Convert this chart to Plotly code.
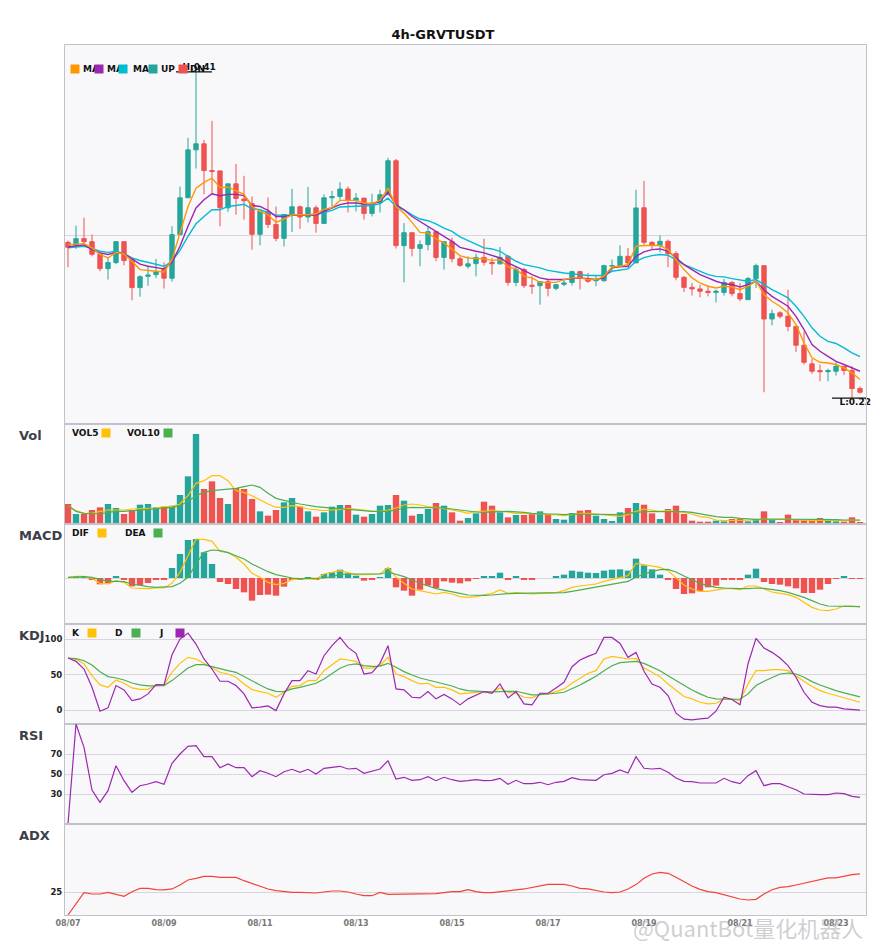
import pandas as pd
import plotly.graph_objects as go
from plotly.subplots import make_subplots

SYMBOL = "GRVTUSDT"
INTERVAL = "4h"
START = "2025-08-07 00:00"

# OHLC, one candle every 4 hours
opens = [0.2961, 0.2944, 0.2982, 0.2965, 0.2894, 0.2816, 0.2849, 0.2965, 0.2865, 0.2716,
         0.2775, 0.2784, 0.2816, 0.2765, 0.3005, 0.3224, 0.3533, 0.3574, 0.3396, 0.3394,
         0.3163, 0.3311, 0.3216, 0.3188, 0.3007, 0.3141, 0.3064, 0.2984, 0.3123, 0.3169,
         0.3108, 0.3163, 0.3070, 0.3224, 0.3232, 0.3278, 0.3208, 0.3222, 0.3129, 0.3192,
         0.3243, 0.3460, 0.2943, 0.3016, 0.2927, 0.2948, 0.3022, 0.2877, 0.2965, 0.2870,
         0.2829, 0.2843, 0.2877, 0.2850, 0.2842, 0.2883, 0.2743, 0.2811, 0.2728, 0.2726,
         0.2747, 0.2712, 0.2733, 0.2743, 0.2800, 0.2761, 0.2752, 0.2752, 0.2830, 0.2832,
         0.2883, 0.2847, 0.3163, 0.2961, 0.2943, 0.2967, 0.2898, 0.2770, 0.2717, 0.2709,
         0.2697, 0.2691, 0.2691, 0.2743, 0.2685, 0.2654, 0.2763, 0.2832, 0.2558, 0.2588,
         0.2571, 0.2522, 0.2433, 0.2348, 0.2318, 0.2313, 0.2315, 0.2337, 0.2318, 0.2240]
highs = [0.2971, 0.3057, 0.3104, 0.3005, 0.2894, 0.2880, 0.2965, 0.2965, 0.2869, 0.2780,
         0.2829, 0.2869, 0.2850, 0.3053, 0.3294, 0.3615, 0.4100, 0.3601, 0.3734, 0.3394,
         0.3311, 0.3440, 0.3362, 0.3232, 0.3141, 0.3226, 0.3171, 0.3123, 0.3280, 0.3177,
         0.3292, 0.3177, 0.3245, 0.3267, 0.3322, 0.3294, 0.3253, 0.3222, 0.3249, 0.3274,
         0.3480, 0.3473, 0.3072, 0.3016, 0.2972, 0.3049, 0.3022, 0.2965, 0.2988, 0.2883,
         0.2883, 0.2898, 0.2982, 0.2874, 0.2935, 0.2891, 0.2829, 0.2820, 0.2775, 0.2747,
         0.2758, 0.2735, 0.2762, 0.2805, 0.2805, 0.2793, 0.2779, 0.2838, 0.2865, 0.2944,
         0.2930, 0.3274, 0.3330, 0.2967, 0.3001, 0.2977, 0.2911, 0.2775, 0.2740, 0.2731,
         0.2726, 0.2705, 0.2762, 0.2749, 0.2740, 0.2772, 0.2843, 0.2832, 0.2604, 0.2596,
         0.2705, 0.2522, 0.2498, 0.2370, 0.2345, 0.2326, 0.2355, 0.2337, 0.2337, 0.2249]
lows = [0.2823, 0.2924, 0.2954, 0.2883, 0.2802, 0.2758, 0.2840, 0.2834, 0.2651, 0.2669,
        0.2726, 0.2765, 0.2711, 0.2747, 0.3005, 0.3224, 0.3409, 0.3245, 0.3243, 0.3053,
        0.3139, 0.3121, 0.3092, 0.2920, 0.2944, 0.3043, 0.2967, 0.2938, 0.3020, 0.3038,
        0.3076, 0.3016, 0.3067, 0.3155, 0.3212, 0.3135, 0.3141, 0.3092, 0.3111, 0.3135,
        0.3243, 0.2926, 0.2743, 0.2883, 0.2829, 0.2916, 0.2856, 0.2811, 0.2850, 0.2825,
        0.2816, 0.2775, 0.2833, 0.2784, 0.2838, 0.2726, 0.2723, 0.2714, 0.2683, 0.2629,
        0.2671, 0.2702, 0.2723, 0.2726, 0.2706, 0.2740, 0.2723, 0.2747, 0.2802, 0.2829,
        0.2820, 0.2847, 0.2948, 0.2920, 0.2905, 0.2823, 0.2754, 0.2693, 0.2675, 0.2666,
        0.2671, 0.2640, 0.2675, 0.2671, 0.2646, 0.2654, 0.2714, 0.2224, 0.2527, 0.2560,
        0.2498, 0.2401, 0.2345, 0.2304, 0.2271, 0.2271, 0.2296, 0.2298, 0.2199, 0.2218]
closes = [0.2933, 0.2982, 0.2965, 0.2894, 0.2816, 0.2849, 0.2965, 0.2860, 0.2716, 0.2773,
          0.2782, 0.2800, 0.2765, 0.3005, 0.3224, 0.3533, 0.3574, 0.3396, 0.3390, 0.3163,
          0.3311, 0.3220, 0.3206, 0.3007, 0.3141, 0.3064, 0.2984, 0.3123, 0.3169, 0.3108,
          0.3163, 0.3070, 0.3224, 0.3232, 0.3278, 0.3208, 0.3222, 0.3129, 0.3192, 0.3243,
          0.3460, 0.2943, 0.3016, 0.2927, 0.2948, 0.3022, 0.2877, 0.2965, 0.2870, 0.2834,
          0.2842, 0.2877, 0.2850, 0.2843, 0.2877, 0.2743, 0.2811, 0.2726, 0.2723, 0.2747,
          0.2712, 0.2731, 0.2740, 0.2800, 0.2765, 0.2749, 0.2756, 0.2832, 0.2832, 0.2883,
          0.2847, 0.3162, 0.2961, 0.2943, 0.2967, 0.2898, 0.2770, 0.2717, 0.2709, 0.2697,
          0.2691, 0.2697, 0.2743, 0.2685, 0.2658, 0.2763, 0.2832, 0.2558, 0.2584, 0.2571,
          0.2522, 0.2433, 0.2355, 0.2315, 0.2313, 0.2318, 0.2337, 0.2318, 0.2240, 0.2224]

# moving averages
ma5 = [0.2948, 0.2952, 0.2954, 0.2930, 0.2893, 0.2874, 0.2905, 0.2896, 0.2856, 0.2811,
       0.2805, 0.2802, 0.2798, 0.2865, 0.3015, 0.3171, 0.3284, 0.3320, 0.3348, 0.3288,
       0.3290, 0.3267, 0.3245, 0.3171, 0.3141, 0.3121, 0.3076, 0.3096, 0.3121, 0.3121,
       0.3121, 0.3127, 0.3155, 0.3163, 0.3208, 0.3208, 0.3208, 0.3192, 0.3188, 0.3208,
       0.3284, 0.3171, 0.3131, 0.3076, 0.3018, 0.3015, 0.2980, 0.2958, 0.2920, 0.2887,
       0.2874, 0.2872, 0.2869, 0.2861, 0.2865, 0.2825, 0.2815, 0.2775, 0.2767, 0.2743,
       0.2743, 0.2743, 0.2758, 0.2767, 0.2767, 0.2758, 0.2758, 0.2775, 0.2825, 0.2829,
       0.2838, 0.2939, 0.2943, 0.2943, 0.2943, 0.2920, 0.2865, 0.2811, 0.2767, 0.2740,
       0.2723, 0.2714, 0.2723, 0.2719, 0.2705, 0.2723, 0.2749, 0.2680, 0.2646, 0.2621,
       0.2588, 0.2531, 0.2444, 0.2375, 0.2355, 0.2352, 0.2345, 0.2330, 0.2308, 0.2279]
ma10 = [0.2935, 0.2943, 0.2947, 0.2920, 0.2902, 0.2893, 0.2905, 0.2898, 0.2869, 0.2840,
        0.2829, 0.2822, 0.2815, 0.2850, 0.2939, 0.3053, 0.3162, 0.3212, 0.3249, 0.3237,
        0.3245, 0.3245, 0.3237, 0.3177, 0.3171, 0.3147, 0.3111, 0.3111, 0.3119, 0.3121,
        0.3119, 0.3119, 0.3141, 0.3162, 0.3182, 0.3192, 0.3192, 0.3186, 0.3186, 0.3202,
        0.3257, 0.3182, 0.3151, 0.3111, 0.3082, 0.3053, 0.3024, 0.2995, 0.2967, 0.2933,
        0.2920, 0.2911, 0.2902, 0.2887, 0.2874, 0.2847, 0.2829, 0.2807, 0.2784, 0.2767,
        0.2758, 0.2758, 0.2758, 0.2763, 0.2767, 0.2763, 0.2758, 0.2767, 0.2820, 0.2826,
        0.2829, 0.2883, 0.2908, 0.2920, 0.2924, 0.2911, 0.2874, 0.2838, 0.2811, 0.2784,
        0.2767, 0.2749, 0.2737, 0.2731, 0.2719, 0.2731, 0.2749, 0.2705, 0.2671, 0.2646,
        0.2621, 0.2571, 0.2507, 0.2436, 0.2405, 0.2382, 0.2359, 0.2345, 0.2330, 0.2315]
ma20 = [0.2930, 0.2935, 0.2939, 0.2927, 0.2911, 0.2905, 0.2911, 0.2898, 0.2874, 0.2860,
        0.2850, 0.2843, 0.2829, 0.2856, 0.2916, 0.2995, 0.3068, 0.3111, 0.3151, 0.3151,
        0.3171, 0.3177, 0.3184, 0.3157, 0.3151, 0.3135, 0.3119, 0.3119, 0.3119, 0.3121,
        0.3121, 0.3121, 0.3135, 0.3147, 0.3168, 0.3171, 0.3171, 0.3176, 0.3177, 0.3188,
        0.3222, 0.3171, 0.3151, 0.3121, 0.3096, 0.3086, 0.3067, 0.3043, 0.3024, 0.2992,
        0.2972, 0.2952, 0.2930, 0.2924, 0.2911, 0.2883, 0.2856, 0.2838, 0.2829, 0.2820,
        0.2807, 0.2798, 0.2793, 0.2788, 0.2782, 0.2779, 0.2779, 0.2779, 0.2802, 0.2807,
        0.2815, 0.2856, 0.2876, 0.2887, 0.2893, 0.2889, 0.2865, 0.2838, 0.2820, 0.2802,
        0.2784, 0.2775, 0.2772, 0.2763, 0.2754, 0.2749, 0.2758, 0.2731, 0.2705, 0.2685,
        0.2663, 0.2621, 0.2571, 0.2515, 0.2475, 0.2451, 0.2441, 0.2421, 0.2398, 0.2380]

volume = [60000, 30000, 30000, 42000, 50000, 60000, 48000, 30000, 42000, 58000,
          60000, 50000, 52000, 55000, 87000, 143000, 270000, 105000, 128000, 78000,
          60000, 108000, 105000, 75000, 38000, 25000, 42000, 65000, 78000, 52000,
          38000, 22000, 35000, 52000, 57000, 57000, 28000, 22000, 30000, 55000,
          57000, 87000, 70000, 25000, 30000, 45000, 63000, 55000, 35000, 10000,
          18000, 32000, 67000, 55000, 35000, 20000, 27000, 27000, 30000, 38000,
          30000, 15000, 13000, 33000, 40000, 42000, 25000, 15000, 9000, 35000,
          48000, 63000, 58000, 32000, 15000, 45000, 55000, 30000, 10000, 7000,
          7000, 10000, 8000, 15000, 15000, 8000, 15000, 38000, 12000, 4000,
          28000, 13000, 13000, 13000, 18000, 13000, 8000, 7000, 20000, 4000]
vol5 = [55000, 40000, 32000, 32000, 38000, 42000, 42000, 42000, 45000, 45000,
        47000, 48000, 52000, 53000, 60000, 85000, 122000, 130000, 145000, 145000,
        130000, 100000, 95000, 85000, 72000, 60000, 50000, 50000, 55000, 52000,
        45000, 42000, 40000, 42000, 43000, 47000, 45000, 42000, 38000, 38000,
        42000, 48000, 57000, 60000, 57000, 52000, 50000, 45000, 42000, 38000,
        32000, 38000, 38000, 42000, 38000, 35000, 32000, 32000, 30000, 32000,
        28000, 27000, 25000, 28000, 32000, 32000, 30000, 28000, 25000, 23000,
        28000, 38000, 45000, 42000, 38000, 40000, 38000, 35000, 30000, 22000,
        20000, 12000, 10000, 10000, 12000, 10000, 12000, 15000, 13000, 14000,
        15000, 12000, 10000, 10000, 11000, 12000, 11000, 10000, 12000, 10000]
vol10 = [55000, 38000, 32000, 30000, 30000, 35000, 38000, 38000, 40000, 42000,
         42000, 44000, 48000, 50000, 55000, 68000, 85000, 95000, 100000, 102000,
         105000, 107000, 112000, 117000, 110000, 92000, 77000, 70000, 65000, 60000,
         55000, 52000, 50000, 48000, 45000, 45000, 42000, 40000, 38000, 38000,
         38000, 42000, 48000, 50000, 50000, 48000, 48000, 48000, 45000, 42000,
         38000, 36000, 35000, 35000, 37000, 38000, 37000, 35000, 32000, 30000,
         30000, 30000, 28000, 30000, 30000, 30000, 30000, 28000, 28000, 28000,
         32000, 35000, 37000, 37000, 37000, 38000, 38000, 37000, 35000, 30000,
         25000, 22000, 20000, 20000, 17000, 15000, 14000, 15000, 15000, 14000,
         15000, 15000, 14000, 13000, 13000, 13000, 13000, 12000, 12000, 12000]

macd_hist = [0.0, 0.0002, 0.0001, -0.0006, -0.0019, -0.0016, 0.0004, -0.0006, -0.0025, -0.0022,
             -0.0015, -0.0005, -0.0005, 0.0030, 0.0072, 0.0114, 0.0117, 0.0077, 0.0042, -0.0012,
             -0.0018, -0.0033, -0.0043, -0.0068, -0.0051, -0.0050, -0.0053, -0.0026, -0.0006, -0.0004,
             0.0002, -0.0004, 0.0012, 0.0017, 0.0025, 0.0014, 0.0007, -0.0008, -0.0006, 0.0001,
             0.0030, -0.0028, -0.0038, -0.0053, -0.0035, -0.0023, -0.0030, -0.0010, -0.0014, -0.0016,
             -0.0010, -0.0001, 0.0004, 0.0006, 0.0016, -0.0004, 0.0004, -0.0004, -0.0004, 0.0,
             0.0, 0.0006, 0.0010, 0.0022, 0.0019, 0.0016, 0.0015, 0.0022, 0.0025, 0.0026,
             0.0022, 0.0058, 0.0038, 0.0026, 0.0010, -0.0004, -0.0033, -0.0048, -0.0046, -0.0040,
             -0.0028, -0.0023, -0.0006, -0.0005, -0.0006, 0.0010, 0.0028, -0.0012, -0.0018, -0.0020,
             -0.0025, -0.0031, -0.0045, -0.0045, -0.0035, -0.0018, -0.0003, 0.0006, -0.0002, -0.0002]
dif = [0.0002, 0.0005, 0.0005, -0.0001, -0.0016, -0.0018, -0.0008, -0.0013, -0.0030, -0.0032,
       -0.0032, -0.0030, -0.0030, -0.0016, 0.0017, 0.0067, 0.0117, 0.0116, 0.0110, 0.0080,
       0.0077, 0.0062, 0.0042, 0.0014, 0.0002, -0.0013, -0.0020, -0.0016, -0.0005, -0.0002,
       -0.0002, -0.0004, 0.0012, 0.0017, 0.0022, 0.0016, 0.0010, 0.0010, 0.0010, 0.0012,
       0.0032, 0.0002, -0.0016, -0.0033, -0.0038, -0.0043, -0.0048, -0.0043, -0.0048, -0.0056,
       -0.0058, -0.0056, -0.0050, -0.0046, -0.0036, -0.0046, -0.0044, -0.0046, -0.0048, -0.0046,
       -0.0046, -0.0044, -0.0038, -0.0028, -0.0024, -0.0022, -0.0018, -0.0010, -0.0004, 0.0,
       0.0007, 0.0044, 0.0040, 0.0034, 0.0032, 0.0022, 0.0, -0.0021, -0.0033, -0.0040,
       -0.0040, -0.0036, -0.0032, -0.0032, -0.0035, -0.0024, -0.0024, -0.0033, -0.0042, -0.0046,
       -0.0050, -0.0058, -0.0073, -0.0088, -0.0096, -0.0098, -0.0093, -0.0084, -0.0084, -0.0087]
dea = [0.0002, 0.0003, 0.0004, 0.0002, -0.0004, -0.0010, -0.0010, -0.0011, -0.0018, -0.0023,
       -0.0026, -0.0028, -0.0028, -0.0026, -0.0016, 0.0002, 0.0042, 0.0077, 0.0084, 0.0082,
       0.0076, 0.0067, 0.0057, 0.0042, 0.0030, 0.0019, 0.0010, 0.0004, 0.0, -0.0002,
       -0.0002, -0.0002, 0.0, 0.0004, 0.0010, 0.0012, 0.0012, 0.0011, 0.0011, 0.0012,
       0.0018, 0.0012, 0.0004, -0.0006, -0.0016, -0.0024, -0.0032, -0.0036, -0.0040, -0.0046,
       -0.0051, -0.0052, -0.0052, -0.0051, -0.0048, -0.0047, -0.0046, -0.0046, -0.0046, -0.0046,
       -0.0046, -0.0046, -0.0044, -0.0040, -0.0036, -0.0032, -0.0028, -0.0023, -0.0018, -0.0014,
       -0.0010, 0.0002, 0.0012, 0.0019, 0.0025, 0.0026, 0.0018, 0.0006, -0.0006, -0.0016,
       -0.0023, -0.0028, -0.0030, -0.0032, -0.0032, -0.0032, -0.0030, -0.0031, -0.0034, -0.0038,
       -0.0043, -0.0050, -0.0058, -0.0068, -0.0078, -0.0084, -0.0085, -0.0085, -0.0085, -0.0086]

k_line = [73.4, 71.5, 65.0, 48.6, 35.5, 32.2, 42.5, 37.9, 31.3, 29.4,
          29.4, 35.5, 35.5, 53.3, 65.9, 74.3, 72.0, 65.9, 59.3, 53.3,
          50.9, 46.3, 36.9, 29.0, 26.2, 23.8, 18.2, 25.2, 33.6, 34.6,
          41.6, 41.6, 55.6, 64.0, 72.0, 70.6, 68.7, 59.3, 59.3, 62.6,
          74.3, 50.9, 47.2, 41.6, 36.9, 37.9, 32.2, 32.2, 28.5, 22.9,
          23.8, 25.2, 26.2, 25.2, 31.3, 25.2, 23.8, 18.2, 17.3, 22.9,
          22.9, 26.2, 29.9, 37.9, 45.3, 51.9, 55.6, 72.0, 75.7, 74.3,
          72.0, 72.9, 59.3, 53.3, 47.2, 36.9, 27.6, 19.2, 15.9, 11.2,
          8.9, 9.8, 15.9, 15.4, 13.6, 36.9, 55.6, 55.6, 57.0, 57.0,
          55.6, 48.6, 40.7, 33.2, 27.6, 23.8, 20.6, 18.2, 14.5, 11.2]
d_line = [73.4, 72.4, 69.6, 63.6, 54.2, 47.2, 45.3, 42.5, 38.3, 35.5,
          34.1, 34.1, 34.6, 41.6, 50.9, 59.3, 64.0, 64.0, 61.2, 57.9,
          55.6, 53.3, 47.2, 40.7, 35.5, 29.9, 26.6, 26.2, 29.9, 32.2,
          35.5, 37.9, 43.9, 50.9, 58.9, 63.6, 65.0, 62.6, 61.7, 62.1,
          65.9, 60.3, 54.2, 49.5, 45.3, 42.5, 39.3, 36.9, 34.1, 29.9,
          27.6, 26.6, 26.2, 25.7, 26.6, 26.6, 26.6, 23.8, 21.5, 22.0,
          22.4, 23.8, 25.2, 29.9, 35.5, 41.6, 47.7, 55.6, 62.6, 66.8,
          68.2, 68.7, 65.9, 61.2, 55.6, 48.6, 41.6, 34.6, 28.5, 22.9,
          18.2, 15.9, 15.9, 15.4, 15.4, 22.9, 34.6, 40.7, 46.3, 50.9,
          52.3, 50.9, 46.3, 40.2, 35.5, 31.3, 27.6, 24.3, 21.5, 18.7]
j_line = [73.4, 68.7, 57.9, 32.2, -1.4, 3.3, 34.6, 28.5, 13.6, 15.9,
          22.9, 36.0, 35.5, 78.0, 100.0, 108.4, 93.0, 72.0, 57.9, 40.7,
          40.7, 34.6, 22.9, 3.3, 4.2, 6.1, -0.5, 22.9, 41.6, 41.6,
          55.6, 50.9, 76.6, 90.7, 102.3, 88.3, 79.9, 50.9, 52.8, 65.9,
          90.7, 29.9, 28.5, 18.2, 17.3, 26.2, 15.9, 22.0, 15.9, 7.5,
          15.9, 20.6, 26.2, 23.8, 36.9, 17.3, 26.2, 8.9, 7.5, 23.8,
          23.8, 31.3, 39.3, 61.2, 70.6, 75.7, 79.9, 102.3, 102.3, 93.9,
          74.3, 81.3, 54.7, 36.9, 32.2, 20.6, -4.2, -12.6, -13.6, -12.1,
          -11.2, -1.4, 18.2, 15.0, 7.5, 65.0, 100.9, 87.4, 81.3, 73.4,
          62.6, 46.3, 25.2, 11.2, 6.5, 4.2, 4.2, 1.9, 0.5, 0.0]

rsi = [0.0, 100.0, 76.7, 34.0, 21.7, 33.3, 58.3, 43.3, 31.7, 38.3,
       40.0, 42.3, 39.7, 60.7, 70.0, 77.7, 78.3, 67.3, 67.3, 56.3,
       60.0, 56.3, 56.3, 47.3, 53.3, 50.7, 47.3, 52.3, 54.7, 51.7,
       54.7, 50.0, 55.7, 56.7, 57.7, 55.0, 55.7, 50.7, 53.0, 55.0,
       63.3, 45.0, 46.7, 43.7, 44.3, 47.3, 43.3, 46.7, 44.3, 42.7,
       43.3, 44.3, 43.3, 43.7, 45.7, 39.7, 43.7, 40.3, 40.3, 41.7,
       39.3, 41.7, 42.7, 46.3, 44.3, 43.7, 43.7, 49.3, 50.7, 54.0,
       51.0, 67.3, 55.7, 55.0, 55.7, 51.7, 46.0, 42.7, 42.3, 41.0,
       41.0, 41.0, 45.7, 42.3, 40.3, 48.3, 53.3, 38.3, 40.3, 40.3,
       37.3, 34.3, 30.0, 29.3, 29.3, 29.3, 31.0, 30.3, 27.7, 26.7]

adx = [0.0, 12.8, 24.5, 23.1, 23.1, 24.9, 23.1, 20.5, 25.6, 29.3,
       29.3, 27.8, 27.5, 28.6, 33.0, 38.5, 40.3, 42.5, 42.5, 41.4,
       41.4, 41.4, 37.7, 34.8, 32.2, 28.6, 26.7, 25.6, 24.9, 24.9,
       24.2, 24.2, 25.3, 26.4, 26.4, 25.3, 23.1, 21.2, 21.2, 24.9,
       22.7, 22.7, 22.7, 23.4, 22.7, 22.7, 23.4, 24.5, 25.6, 25.6,
       27.8, 25.6, 24.5, 24.5, 25.3, 26.4, 27.5, 28.6, 30.4, 32.2,
       33.7, 33.7, 33.7, 31.9, 29.3, 28.6, 26.7, 25.3, 24.5, 25.3,
       28.6, 33.4, 40.3, 45.1, 46.9, 45.8, 41.4, 36.3, 31.9, 28.2,
       25.6, 24.5, 22.3, 19.4, 17.6, 16.5, 17.2, 23.1, 27.8, 30.4,
       31.1, 33.0, 34.8, 37.0, 38.8, 40.7, 40.7, 42.5, 44.3, 45.1]

UP = "#26a69a"
DOWN = "#ef5350"
MA_COLORS = ["#ff9800", "#9c27b0", "#00bcd4"]
YELLOW = "#ffc107"
GREEN = "#4caf50"
PURPLE = "#9c27b0"
AXIS = "#c2c2ca"
GRID = "#d6d6dc"
FONT = "DejaVu Sans"

# figure geometry (px); the page puts the figure 8px in from the window corner
W, H = 885, 950
PAGE = 8
L_M, R_M, T_M, B_M = 57, 27, 37, 43
PW, PH = W - L_M - R_M, H - T_M - B_M


def px(x):
    # window x -> paper x
    return (x - PAGE - L_M) / PW


def py(y):
    # window y -> paper y
    return (H - B_M - (y - PAGE)) / PH


times = pd.date_range(START, periods=len(closes), freq="4h")
step = pd.Timedelta(hours=4)

fig = make_subplots(rows=6, cols=1, shared_xaxes=True, vertical_spacing=0,
                    row_heights=[379, 100, 100, 100, 100, 91])

# --- price panel
fig.add_trace(go.Candlestick(
    x=times, open=opens, high=highs, low=lows, close=closes,
    increasing=dict(line=dict(color=UP, width=1), fillcolor=UP),
    decreasing=dict(line=dict(color=DOWN, width=1), fillcolor=DOWN),
    whiskerwidth=0, showlegend=False), row=1, col=1)
for ma, color in zip([ma20, ma10, ma5], MA_COLORS[::-1]):
    fig.add_trace(go.Scatter(x=times, y=ma, mode="lines", showlegend=False,
                             line=dict(color=color, width=1.4)), row=1, col=1)

i_hi = highs.index(max(highs))
i_lo = lows.index(min(lows))
for idx, val, pos, label in [(i_hi, highs[i_hi], "top center", "H"),
                             (i_lo, lows[i_lo], "bottom center", "L")]:
    fig.add_trace(go.Scatter(x=[times[idx] - 2.5 * step, times[idx] + 2 * step], y=[val, val],
                             mode="lines", line=dict(color="#111", width=1.2),
                             showlegend=False, cliponaxis=False), row=1, col=1)
    fig.add_trace(go.Scatter(x=[times[idx] + 0.4 * step], y=[val], mode="text",
                             text=[f"<b>{label}:{val:.2f}</b>"], textposition=pos,
                             textfont=dict(size=9, color="#111", family=FONT),
                             showlegend=False, cliponaxis=False), row=1, col=1)

# --- volume
vol_colors = [UP if c >= o else DOWN for o, c in zip(opens, closes)]
fig.add_trace(go.Bar(x=times, y=volume, marker_color=vol_colors, marker_line_width=0,
                     showlegend=False), row=2, col=1)
fig.add_trace(go.Scatter(x=times, y=vol5, mode="lines", line=dict(color=YELLOW, width=1.2),
                         showlegend=False), row=2, col=1)
fig.add_trace(go.Scatter(x=times, y=vol10, mode="lines", line=dict(color=GREEN, width=1.2),
                         showlegend=False), row=2, col=1)

# --- MACD
fig.add_trace(go.Bar(x=times, y=macd_hist, marker_line_width=0, showlegend=False,
                     marker_color=[UP if v >= 0 else DOWN for v in macd_hist]), row=3, col=1)
fig.add_trace(go.Scatter(x=times, y=dif, mode="lines", line=dict(color=YELLOW, width=1.2),
                         showlegend=False), row=3, col=1)
fig.add_trace(go.Scatter(x=times, y=dea, mode="lines", line=dict(color=GREEN, width=1.2),
                         showlegend=False), row=3, col=1)

# --- KDJ
fig.add_hline(y=100, line=dict(color="#95d5cc", width=1), row=4, col=1)
fig.add_hline(y=0, line=dict(color="#f5a9a9", width=1), row=4, col=1)
for series, color in [(k_line, YELLOW), (d_line, GREEN), (j_line, PURPLE)]:
    fig.add_trace(go.Scatter(x=times, y=series, mode="lines", line=dict(color=color, width=1.2),
                             showlegend=False), row=4, col=1)

# --- RSI
fig.add_hline(y=70, line=dict(color="#95d5cc", width=1), row=5, col=1)
fig.add_hline(y=30, line=dict(color="#f5a9a9", width=1), row=5, col=1)
fig.add_trace(go.Scatter(x=times, y=rsi, mode="lines", line=dict(color=PURPLE, width=1.2),
                         showlegend=False), row=5, col=1)

# --- ADX
fig.add_hline(y=25, line=dict(color="#dcaee3", width=1), row=6, col=1)
fig.add_trace(go.Scatter(x=times, y=adx, mode="lines", line=dict(color="#f44336", width=1.2),
                         showlegend=False), row=6, col=1)

# axes
x_range = [times[0] - 0.375 * step, times[0] + 99.75 * step]
fig.update_xaxes(range=x_range, showgrid=False, showline=True, mirror=True, linecolor=AXIS,
                 ticks="", zeroline=False, rangeslider_visible=False, showticklabels=False)
fig.update_xaxes(row=6, col=1, showticklabels=True, tickformat="%m/%d", dtick=2 * 86400000,
                 tick0=START, tickfont=dict(size=8, color="#777", family=FONT, weight="bold"))
fig.update_yaxes(showline=True, mirror=True, linecolor=AXIS, ticks="", zeroline=False,
                 gridcolor=GRID, showgrid=True,
                 tickfont=dict(size=8.5, color="#222", family=FONT, weight="bold"))
fig.update_yaxes(row=1, col=1, type="log", range=[-0.6792, -0.3649], tickvals=[0.3],
                 showticklabels=False)
fig.update_yaxes(row=2, col=1, range=[0, 300000], showgrid=False, showticklabels=False)
fig.update_yaxes(row=3, col=1, range=[-0.0138, 0.0162], tickvals=[0], showticklabels=False)
fig.update_yaxes(row=4, col=1, range=[-19.4, 121.2], tickvals=[0, 50, 100])
fig.update_yaxes(row=5, col=1, range=[0, 100], tickvals=[30, 50, 70])
fig.update_yaxes(row=6, col=1, range=[0, 100], tickvals=[25])

# panel names
for name, y in [("Vol", 435), ("MACD", 535), ("KDJ", 635), ("RSI", 735), ("ADX", 835)]:
    fig.add_annotation(x=px(17), y=py(y), xref="paper", yref="paper", xanchor="left",
                       yanchor="middle", showarrow=False, text=f"<b>{name}</b>",
                       font=dict(size=13, color="#3e3e48", family=FONT))


def legend_box(x, y, color):
    fig.add_annotation(x=px(x), y=py(y), xref="paper", yref="paper", xanchor="left",
                       yanchor="middle", showarrow=False, text=" ", bgcolor=color,
                       width=7.5, height=7.5, borderpad=0, font=dict(size=4))


def legend_text(x, y, label):
    fig.add_annotation(x=px(x), y=py(y), xref="paper", yref="paper", xanchor="left",
                       yanchor="middle", showarrow=False, text=f"<b>{label}</b>",
                       font=dict(size=9, color="#111", family=FONT))


# price legend: square first, entries squeezed together
for sx, tx, color, label in [(70, 81, MA_COLORS[0], "MA"), (94, 105, MA_COLORS[1], "MA"),
                             (118, 131, MA_COLORS[2], "MA"), (148, 159, UP, "UP"),
                             (178, 188, DOWN, "DN")]:
    legend_box(sx, 69, color)
    legend_text(tx, 69, label)

# indicator legends: label first, square after
for y, items in [(433, [(70, "VOL5", 101, YELLOW), (125, "VOL10", 163, GREEN)]),
                 (533, [(70, "DIF", 97, YELLOW), (123, "DEA", 153, GREEN)]),
                 (633, [(70, "K", 87, YELLOW), (113, "D", 131, GREEN), (157, "J", 175, PURPLE)])]:
    for tx, label, sx, color in items:
        legend_text(tx, y, label)
        legend_box(sx, y, color)

fig.add_annotation(x=px(748), y=py(927), xref="paper", yref="paper", showarrow=False,
                   xanchor="center", yanchor="middle",
                   text="@QuantBot量化机器人",
                   font=dict(size=22, color="rgba(165,165,172,0.55)", family="Noto Sans CJK SC"))

fig.update_layout(
    width=W, height=H,
    margin=dict(l=L_M, r=R_M, t=T_M, b=B_M),
    title=dict(text=f"<b>{INTERVAL}-{SYMBOL}</b>", x=(443 - PAGE) / W, xanchor="center",
               y=1 - (34 - PAGE) / H, yanchor="middle",
               font=dict(size=13, color="#111", family=FONT)),
    paper_bgcolor="white",
    plot_bgcolor="#f8f8fb",
    bargap=0.2,
    boxgap=0.22,
    showlegend=False,
    font=dict(family=FONT),
)

fig.write_html("out.html")
